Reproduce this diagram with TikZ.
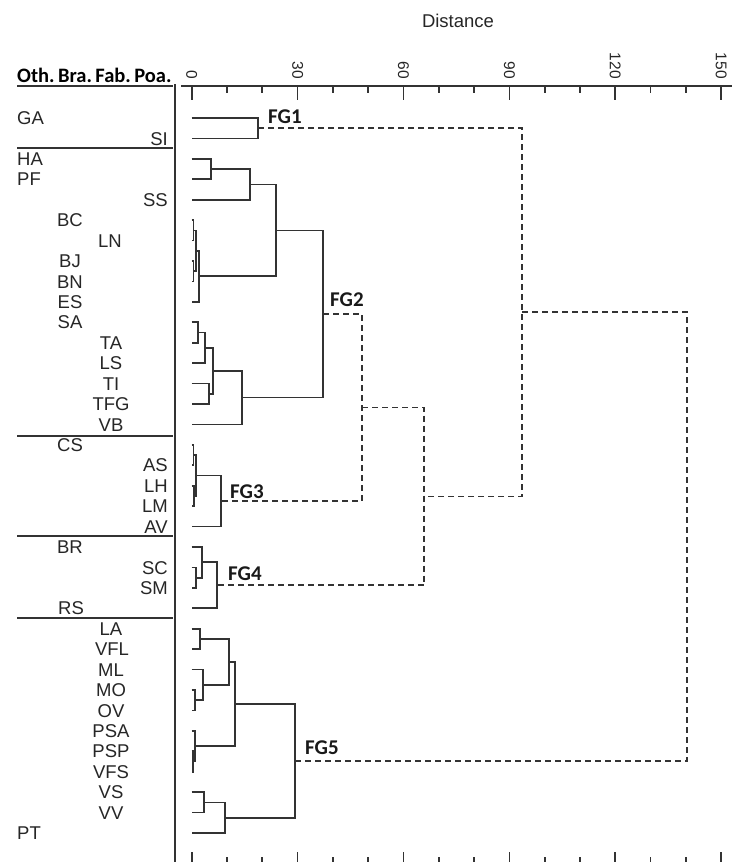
\documentclass[tikz,border=0pt]{standalone}
\usepackage{fontspec}
\setmainfont{Liberation Sans}
\newfontfamily\calfont{Carlito}
\newcommand\ry[1]{118+20.43*#1}
\newcommand\mrg[5]{\draw[dend] (#2,#3) -- (#1,#3) -- (#1,#5) -- (#4,#5);}
\begin{document}
\begin{tikzpicture}[x=1pt,y=-1pt,
  dend/.style={line width=1.7pt, draw=black!80},
  dsh/.style={line width=1.7pt, draw=black!80, dash pattern=on 6pt off 4pt},
  rule/.style={line width=1.9pt, draw=black!80},
  lab/.style={font=\fontsize{18.5}{18.5}\selectfont, inner sep=0pt, text=black!85},
  oth/.style={lab, anchor=base west},
  bra/.style={lab, anchor=base},
  fab/.style={lab, anchor=base},
  poa/.style={lab, anchor=base east},
  fg/.style={font=\calfont\bfseries\fontsize{21}{21}\selectfont, inner sep=0pt, anchor=west, text=black!90},
  ticklab/.style={font=\fontsize{15.5}{15.5}\selectfont, inner sep=0pt, rotate=-90, anchor=east, text=black!85}]
\useasboundingbox (0,0) rectangle (732,862);
% header and frame
\node[font=\calfont\bfseries\fontsize{20.5}{20.5}\selectfont, inner sep=0pt, anchor=base west] (hdr) at (17,82) {Oth.\,Bra.\,Fab.\,Poa.};
\node[lab, anchor=center] (dist) at (458,21) {Distance};
\draw[rule] (17,86) -- (173,86);
\draw[rule] (175,84) -- (175,862);
\draw[rule] (181,86) -- (732,86);
\foreach \y in {148,436,536,618} \draw[rule] (17,\y) -- (173,\y);
% ticks
\foreach \v in {0,30,...,150} {
  \draw[dend] ({191.7+3.53*\v},86) -- ({191.7+3.53*\v},100);
  \draw[dend] ({191.7+3.53*\v},852) -- ({191.7+3.53*\v},862);
  \node[ticklab] (t\v) at ({191.7+3.53*\v},79) {\v};
}
\foreach \v in {10,20,40,50,70,80,100,110,130,140} {
  \draw[dend] ({191.7+3.53*\v},86) -- ({191.7+3.53*\v},93);
  \draw[dend] ({191.7+3.53*\v},857) -- ({191.7+3.53*\v},862);
}
% labels
\node[oth] (GA) at (17,{\ry{0}+6.6}) {GA};
\node[poa] (SI) at (168,{\ry{1}+6.6}) {SI};
\node[oth] (HA) at (17,{\ry{2}+6.6}) {HA};
\node[oth] (PF) at (17,{\ry{3}+6.6}) {PF};
\node[poa] (SS) at (168,{\ry{4}+6.6}) {SS};
\node[bra] (BC) at (70,{\ry{5}+6.6}) {BC};
\node[fab] (LN) at (110,{\ry{6}+6.6}) {LN};
\node[bra] (BJ) at (70,{\ry{7}+6.6}) {BJ};
\node[bra] (BN) at (70,{\ry{8}+6.6}) {BN};
\node[bra] (ES) at (70,{\ry{9}+6.6}) {ES};
\node[bra] (SA) at (70,{\ry{10}+6.6}) {SA};
\node[fab] (TA) at (111,{\ry{11}+6.6}) {TA};
\node[fab] (LS) at (111,{\ry{12}+6.6}) {LS};
\node[fab] (TI) at (111,{\ry{13}+6.6}) {TI};
\node[fab] (TFG) at (111,{\ry{14}+6.6}) {TFG};
\node[fab] (VB) at (111,{\ry{15}+6.6}) {VB};
\node[bra] (CS) at (70,{\ry{16}+6.6}) {CS};
\node[poa] (AS) at (168,{\ry{17}+6.6}) {AS};
\node[poa] (LH) at (168,{\ry{18}+6.6}) {LH};
\node[poa] (LM) at (168,{\ry{19}+6.6}) {LM};
\node[poa] (AV) at (168,{\ry{20}+6.6}) {AV};
\node[bra] (BR) at (70,{\ry{21}+6.6}) {BR};
\node[poa] (SC) at (168,{\ry{22}+6.6}) {SC};
\node[poa] (SM) at (168,{\ry{23}+6.6}) {SM};
\node[bra] (RS) at (71,{\ry{24}+6.6}) {RS};
\node[fab] (LA) at (111,{\ry{25}+6.6}) {LA};
\node[fab] (VFL) at (112,{\ry{26}+6.6}) {VFL};
\node[fab] (ML) at (111,{\ry{27}+6.6}) {ML};
\node[fab] (MO) at (111,{\ry{28}+6.6}) {MO};
\node[fab] (OV) at (111,{\ry{29}+6.6}) {OV};
\node[fab] (PSA) at (111,{\ry{30}+6.6}) {PSA};
\node[fab] (PSP) at (111,{\ry{31}+6.6}) {PSP};
\node[fab] (VFS) at (111,{\ry{32}+6.6}) {VFS};
\node[fab] (VS) at (111,{\ry{33}+6.6}) {VS};
\node[fab] (VV) at (111,{\ry{34}+6.6}) {VV};
\node[oth] (PT) at (17,{\ry{35}+6.6}) {PT};
% dendrogram FG1
\def\L{191.7}
\mrg{258}{\L}{118.0}{\L}{138.4}
% FG2
\mrg{211}{\L}{158.9}{\L}{179.3}
\mrg{250}{211}{169.1}{\L}{199.7}
\mrg{193.5}{\L}{220.2}{\L}{240.6}
\mrg{193.5}{\L}{261.0}{\L}{281.4}
\mrg{196}{193.5}{230.4}{193.5}{271.2}
\mrg{199}{196}{250.8}{\L}{301.9}
\mrg{276}{250}{184.4}{199}{276.3}
\mrg{198}{\L}{322.3}{\L}{342.7}
\mrg{205}{198}{332.5}{\L}{363.2}
\mrg{209}{\L}{383.6}{\L}{404.0}
\mrg{213}{205}{347.8}{209}{393.8}
\mrg{242}{213}{370.8}{\L}{424.5}
\mrg{323}{276}{230.4}{242}{397.6}
% FG3
\mrg{193.5}{\L}{444.9}{\L}{465.3}
\mrg{194}{\L}{485.7}{\L}{506.2}
\mrg{196}{193.5}{455.1}{194}{496.0}
\mrg{221}{196}{475.5}{\L}{526.6}
% FG4
\mrg{196}{\L}{567.5}{\L}{587.9}
\mrg{202}{\L}{547.0}{196}{577.7}
\mrg{217}{202}{562.3}{\L}{608.3}
% FG5
\mrg{200}{\L}{628.8}{\L}{649.2}
\mrg{195}{\L}{690.0}{\L}{710.5}
\mrg{203}{\L}{669.6}{195}{700.2}
\mrg{229}{200}{639.0}{203}{684.9}
\mrg{193}{\L}{751.3}{\L}{771.8}
\mrg{195}{\L}{730.9}{193}{761.5}
\mrg{235}{229}{661.9}{195}{746.2}
\mrg{204}{\L}{792.2}{\L}{812.6}
\mrg{225}{204}{802.4}{\L}{833.1}
\mrg{295}{235}{704.0}{225}{817.7}
% group roots
\coordinate (r1) at (258,128.2);
\coordinate (r2) at (323,314.0);
\coordinate (r3) at (221,501.1);
\coordinate (r4) at (217,585.3);
\coordinate (r5) at (295,760.9);
\coordinate (j23) at (362,407.5);
\coordinate (j234) at (424,496.4);
\coordinate (j1234) at (522,312.3);
% dashed links
\draw[dsh] (r2) -- (r2 -| j23) -- (r3 -| j23) -- (r3);
\draw[dsh] (j23) -- (j23 -| j234) -- (r4 -| j234) -- (r4);
\draw[dsh] (r1) -- (r1 -| j1234) -- (j234 -| j1234) -- (j234);
\draw[dsh] (j1234) -- (687,312.3) -- (687,760.9) -- (r5);
% FG labels
\node[fg] (FG1) at (268,117) {FG1};
\node[fg] (FG2) at (330,300) {FG2};
\node[fg] (FG3) at (230,492) {FG3};
\node[fg] (FG4) at (228,574) {FG4};
\node[fg] (FG5) at (305,748) {FG5};
\end{tikzpicture}
\end{document}
